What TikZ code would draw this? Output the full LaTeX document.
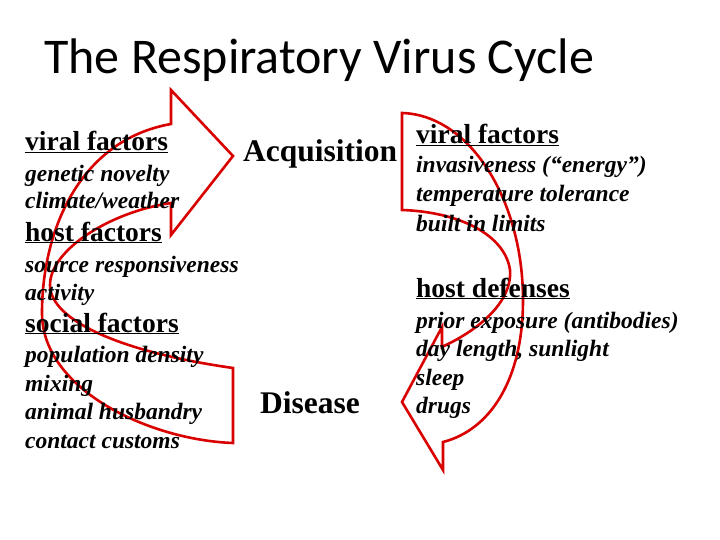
\documentclass[tikz,border=0pt]{standalone}
\usepackage{fontspec}
\setmainfont{Liberation Serif}
\newfontfamily\titlefont{Carlito}
\begin{document}
\begin{tikzpicture}[x=1pt,y=-1pt,
  arr/.style={draw=red!85!black,line width=2.6pt,line join=miter},
  head/.style={anchor=base west,inner sep=0,font=\fontsize{27.5}{30}\selectfont\bfseries},
  item/.style={anchor=base west,inner sep=0,font=\fontsize{23.5}{26}\selectfont\bfseries\itshape},
  big/.style={anchor=base west,inner sep=0,font=\fontsize{31.5}{34}\selectfont\bfseries}]
\useasboundingbox (0,0) rectangle (720,540);
% left arrow
\draw[arr] (171,124) .. controls (80,140) and (42,230) .. (42,313)
  .. controls (42,390) and (150,440) .. (233,443) -- (233,368)
  .. controls (120,352) and (50,320) .. (50,285)
  .. controls (50,250) and (110,212) .. (171,203) -- (171,235) -- (233,156) -- (171,90) -- cycle;
% right arrow
\draw[arr] (402,113) .. controls (470,115) and (523,200) .. (523,300)
  .. controls (523,380) and (490,430) .. (443,442) -- (443,470) -- (402,402) -- (442,327) -- (442,347)
  .. controls (495,322) and (512,292) .. (510,270)
  .. controls (505,235) and (460,212) .. (402,210) -- cycle;
\node[anchor=base west,inner sep=0,font=\titlefont\fontsize{50}{54}\selectfont] (title) at (44,74) {The Respiratory Virus Cycle};
\node[head] (lv) at (25,151) {\underline{viral factors}};
\node[item] (l1) at (25,182) {genetic novelty};
\node[item] (l2) at (25,208) {climate/weather};
\node[head] (lh) at (25,241) {\underline{host factors}};
\node[item] (l3) at (25,272) {source responsiveness};
\node[item] (l4) at (25,300) {activity};
\node[head] (ls) at (25,332) {\underline{social factors}};
\node[item] (l5) at (25,362) {population density};
\node[item] (l6) at (25,391) {mixing};
\node[item] (l7) at (25,419) {animal husbandry};
\node[item] (l8) at (25,448) {contact customs};
\node[big] (acq) at (243,162) {Acquisition};
\node[big] (dis) at (260,413) {Disease};
\node[head] (rv) at (416,144) {\underline{viral factors}};
\node[item] (r1) at (416,173) {invasiveness (“energy”)};
\node[item] (r2) at (416,202) {temperature tolerance};
\node[item] (r3) at (416,231) {built in limits};
\node[head] (rh) at (416,297) {\underline{host defenses}};
\node[item] (r4) at (416,328) {prior exposure (antibodies)};
\node[item] (r5) at (416,356) {day length, sunlight};
\node[item] (r6) at (416,385) {sleep};
\node[item] (r7) at (416,413) {drugs};
\end{tikzpicture}
\end{document}
